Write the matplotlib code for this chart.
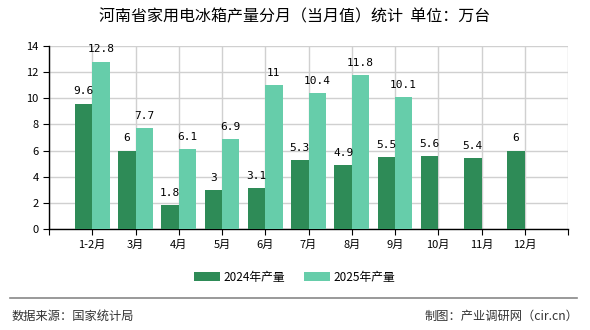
import matplotlib
matplotlib.use("Agg")
import matplotlib.pyplot as plt
import numpy as np

plt.rcParams['font.family'] = ['Noto Sans CJK SC', 'DejaVu Sans']

# 数据
months = ["1-2月", "3月", "4月", "5月", "6月", "7月", "8月", "9月", "10月", "11月", "12月"]
v2024 = [9.6, 6, 1.8, 3, 3.1, 5.3, 4.9, 5.5, 5.6, 5.4, 6]
v2025 = [12.8, 7.7, 6.1, 6.9, 11, 10.4, 11.8, 10.1]

C24 = "#2e8b57"
C25 = "#66cdaa"

fig = plt.figure(figsize=(5.9, 3.3), dpi=100)
ax = fig.add_axes([49 / 590, 1 - 229 / 330, 519 / 590, 183 / 330])

x = np.arange(1, len(months) + 1)
w = 0.4
b1 = ax.bar(x[:len(v2024)] - w / 2, v2024, w, color=C24, label="2024年产量", zorder=3)
b2 = ax.bar(x[:len(v2025)] + w / 2, v2025, w, color=C25, label="2025年产量", zorder=3)

lab_font = dict(fontsize=8, family=['DejaVu Sans Mono', 'Noto Sans CJK SC'])
for r, v in zip(b1, v2024):
    ax.text(r.get_x() + r.get_width() / 2, v + 0.55, f"{v:g}", ha="center", va="bottom", **lab_font)
for r, v in zip(b2, v2025):
    ax.text(r.get_x() + r.get_width() / 2, v + 0.55, f"{v:g}", ha="center", va="bottom", **lab_font)

ax.set_xlim(0, 12)
ax.set_ylim(0, 14)
ax.set_yticks(range(0, 15, 2))
ax.set_xticks(range(0, 13))
ax.set_xticklabels([""] + months + [""], fontsize=8)
ax.tick_params(axis="y", labelsize=8, length=4)
ax.tick_params(axis="x", length=4)
ax.grid(True, color="#d0d0d0", linewidth=1, zorder=0)
for s in ["top", "right"]:
    ax.spines[s].set_visible(False)
ax.spines["left"].set_linewidth(1)
ax.spines["bottom"].set_linewidth(1)

fig.text(0.5, 1 - 17 / 330, "河南省家用电冰箱产量分月（当月值）统计  单位：万台",
         ha="center", va="center", fontsize=11.5)

fig.legend(handles=[b1, b2], loc="center", bbox_to_anchor=(0.5, 1 - 277 / 330),
           ncol=2, frameon=False, fontsize=8.5, handlelength=2.2, handleheight=0.8,
           columnspacing=1.6, handletextpad=0.3)

fig.add_artist(plt.Line2D([10 / 590, 577 / 590], [1 - 298 / 330] * 2, color="#888888", linewidth=1.2))
fig.text(12 / 590, 1 - 316 / 330, "数据来源：国家统计局", ha="left", va="center", fontsize=8.8, color="#333333")
fig.text(578 / 590, 1 - 316 / 330, "制图：产业调研网（cir.cn）", ha="right", va="center", fontsize=8.8, color="#333333")

fig.savefig("out.png", dpi=100)
